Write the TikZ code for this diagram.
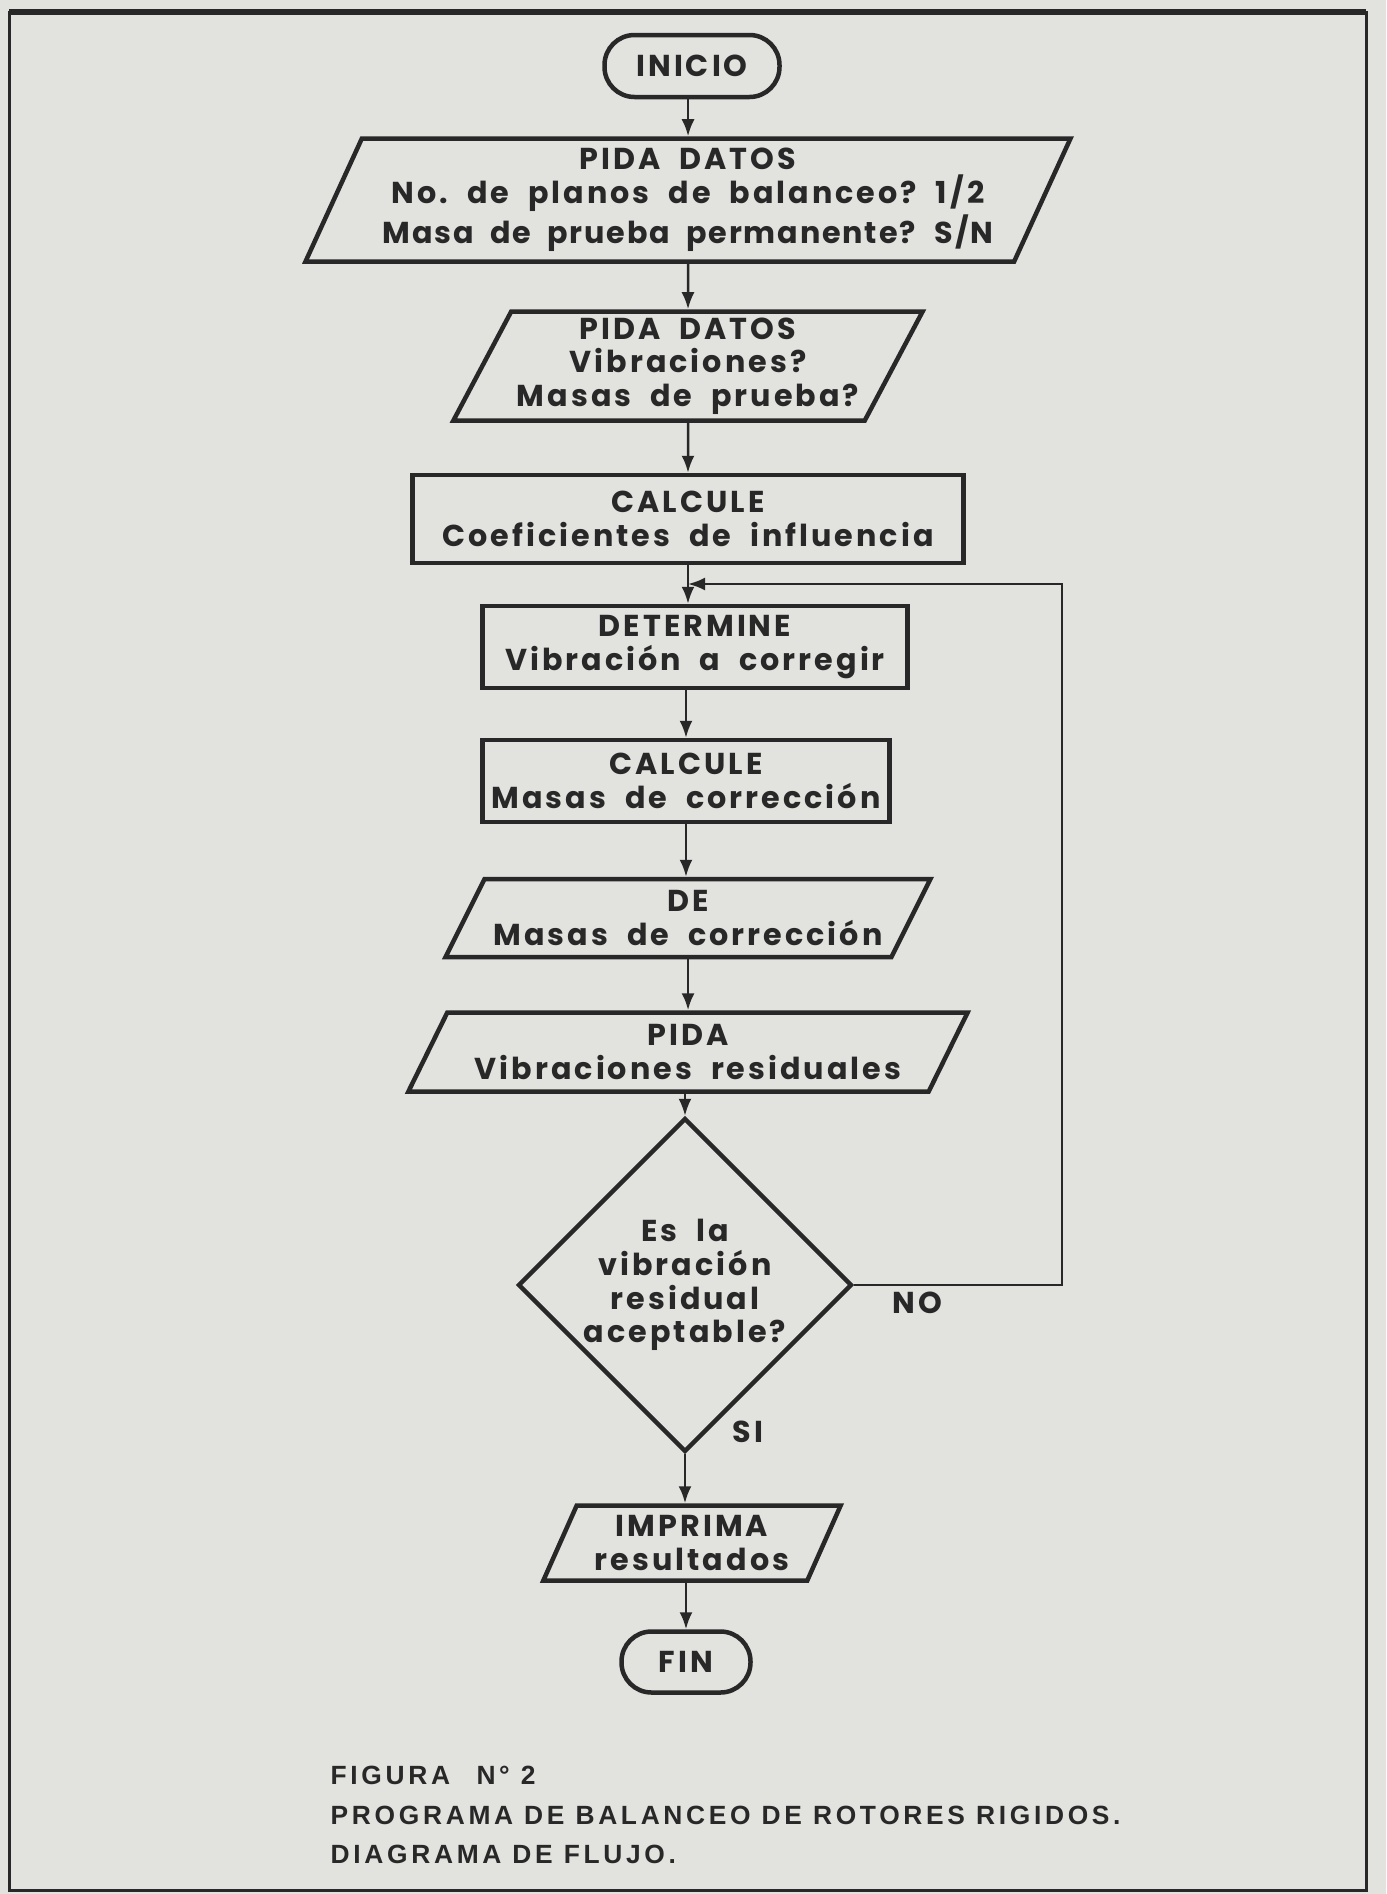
\documentclass[tikz,border=0pt]{standalone}
\usepackage{fontspec}
\setmainfont[LetterSpace=10, WordSpace=2]{Poppins}
\newfontfamily\capfont[LetterSpace=14]{Liberation Sans}
\usetikzlibrary{shapes.geometric,arrows.meta}
\definecolor{paper}{RGB}{226,226,223}
\definecolor{ink}{RGB}{40,40,40}

\begin{document}
\begin{tikzpicture}[x=0.1mm, y=-0.1mm,
            every node/.style={font=\bfseries\fontsize{8.6}{9.6}\selectfont, text=ink, align=center},
            box/.style={rectangle, draw=ink, line width=0.45mm, inner sep=0pt},
            io/.style 2 args={trapezium, trapezium stretches=true, trapezium left angle=#1, trapezium right angle=#2, draw=ink, line width=0.45mm, inner sep=0pt},
            term/.style={rectangle, rounded corners=3mm, draw=ink, line width=0.45mm, inner sep=0pt},
            decision/.style={diamond, draw=ink, line width=0.45mm, inner sep=0pt},
            flow/.style={draw=ink, line width=0.25mm, -{Latex[length=1.7mm,width=1.3mm]}}
        ]
            % Page and frame
            \fill[paper] (0,0) rectangle (1386,1894);
            \draw[ink, line width=0.3mm] (9,12) rectangle (1366,1890);
            \draw[ink, line width=0.6mm] (9,12) -- (1366,12);

            % Blocks
            \node[term, minimum width=17.5mm, minimum height=6.2mm] (inicio) at (692,66) {INICIO};
            \node[io={63}{117}, minimum width=76.6mm, minimum height=12.3mm] (datos1) at (688,200)
                {PIDA DATOS\\No.\ de planos de balanceo?\ 1/2\\{\addfontfeature{LetterSpace=6}Masa de prueba permanente? S/N}};
            \node[io={60}{120}, minimum width=47mm, minimum height=10.9mm] (datos2) at (688,366)
                {PIDA DATOS\\Vibraciones?\\Masas de prueba?};
            \node[box, minimum width=55.1mm, minimum height=8.8mm] (coef) at (688,519)
                {CALCULE\\Coeficientes de influencia};
            \node[box, minimum width=42.5mm, minimum height=8.2mm] (determ) at (695,647)
                {DETERMINE\\Vibración a corregir};
            \node[box, minimum width=40.7mm, minimum height=8.2mm] (masas) at (686,781)
                {CALCULE\\Masas de corrección};
            \node[io={56}{124}, minimum width=48.5mm, minimum height=7.8mm] (entrega) at (688,918)
                {DE\\Masas de corrección};
            \node[io={58}{122}, minimum width=56mm, minimum height=7.9mm] (residuo) at (688,1052)
                {PIDA\\Vibraciones residuales};
            \node[decision, minimum width=32.2mm, minimum height=31.4mm] (decide) at (685,1285)
                {Es la\\vibración\\residual\\aceptable?};
            \node[io={63}{117}, minimum width=29.8mm, minimum height=7.5mm] (imprima) at (692,1543)
                {IMPRIMA\\resultados};
            \node[term, minimum width=12.9mm, minimum height=6.1mm] (fin) at (686,1662) {FIN};

            % Branch labels
            \node (no) at (917,1303) {NO};
            \node (si) at (748,1432) {SI};

            % Connectors
            \draw[flow] (inicio.south -| datos1.north) -- (datos1.north);
            \draw[flow] (datos1.south) -- (datos2.north);
            \draw[flow] (datos2.south) -- (coef.north);
            \draw[flow] (coef.south) -- (coef.south |- determ.north);
            \draw[flow] (masas.north |- determ.south) -- (masas.north);
            \draw[flow] (masas.south) -- (masas.south |- entrega.north);
            \draw[flow] (entrega.south -| residuo.north) -- (residuo.north);
            \draw[flow] (residuo.south -| decide.north) -- (decide.north);
            \draw[flow] (decide.south) -- (decide.south |- imprima.north);
            \draw[flow] (imprima.south -| fin.north) -- (fin.north);

            % Loop back (NO)
            \coordinate (loopT) at (1062,584);
            \coordinate (join) at (coef.south |- loopT);
            \draw[flow] (decide.east) -| (loopT) -- (join);

            % Caption
            \node[anchor=west, align=left, inner sep=0pt, font=\capfont\bfseries\fontsize{7.5}{11.2}\selectfont] (caption) at (330,1815)
                {FIGURA\quad N° 2\\PROGRAMA DE BALANCEO DE ROTORES RIGIDOS.\\DIAGRAMA DE FLUJO.};
        \end{tikzpicture}
\end{document}
